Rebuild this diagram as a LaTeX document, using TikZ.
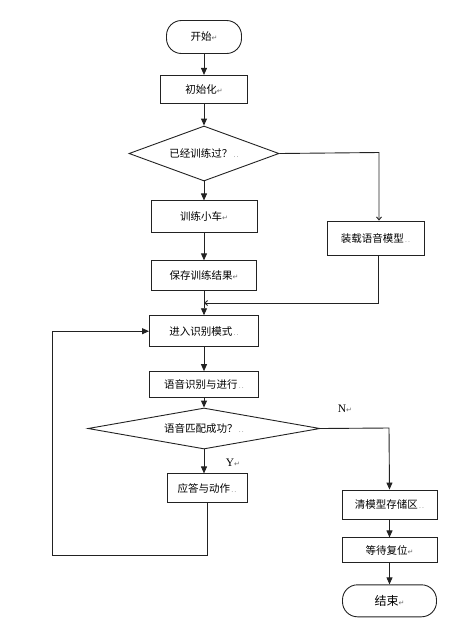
\documentclass[tikz,border=0pt]{standalone}
\usepackage{fontspec}
\usepackage{tikz}
\usetikzlibrary{arrows.meta,positioning,shapes.geometric}
\newfontfamily\cjk{Noto Sans CJK SC}
\newfontfamily\symf{DejaVu Sans}
\newfontfamily\latn{Liberation Serif}
\definecolor{ink}{HTML}{222222}
\definecolor{pmark}{HTML}{6A6A6A}
\newcommand{\pmk}{{\symf\fontsize{7}{8}\selectfont\color{pmark}↵}}
\newcommand{\dmk}{{\fontsize{7}{8}\selectfont\color{pmark}\,.\,.}}

\begin{document}
\begin{tikzpicture}[node distance=22pt,
  box/.style={draw=ink,line width=0.9pt,inner sep=0pt,align=center,font=\cjk\fontsize{10.5}{12}\selectfont},
  term/.style={box,rounded corners=15pt,minimum height=33pt},
  cond/.style={box,diamond},
  lbl/.style={font=\latn\fontsize{11.5}{12}\selectfont,inner sep=0pt},
  arr/.style={-{Triangle[length=7pt,width=6pt]},line width=0.9pt,color=ink},
  thin/.style={-{Straight Barb[length=3pt,width=5pt]},line width=0.9pt,color=ink}]
\useasboundingbox (0,0) rectangle (471pt,-625pt);
% main column
\node[term,minimum width=75pt] (start) at (204pt,-37pt) {开始\pmk};
\node[box,minimum width=87pt,minimum height=28pt,below=21pt of start] (init) {初始化\pmk};
\node[cond,aspect=2.73,minimum width=150pt,minimum height=55pt] (trained) at (204pt,-153.5pt) {已经训练过？\dmk};
\node[box,minimum width=106pt,minimum height=32pt,below=19pt of trained] (train) {训练小车\pmk};
\node[box,minimum width=105pt,minimum height=30pt,below=27pt of train] (save) {保存训练结果\pmk};
\node[box,minimum width=109pt,minimum height=31pt,below=24pt of save] (enter) {进入识别模式\dmk};
\node[box,minimum width=109pt,minimum height=26pt,below=24pt of enter] (recog) {语音识别与进行\dmk};
\node[cond,aspect=5.66,minimum width=232pt,minimum height=41pt] (match) at (204pt,-428.5pt) {语音匹配成功？\dmk};
\node[box,minimum width=80pt,minimum height=29pt,below=24pt of match,xshift=3pt] (answer) {应答与动作\dmk};
% right column
\node[box,minimum width=97pt,minimum height=34pt] (load) at (375.5pt,-238pt) {装载语音模型\dmk};
\node[box,minimum width=95pt,minimum height=29pt] (clear) at (389.5pt,-504.5pt) {清模型存储区\dmk};
\node[box,minimum width=95pt,minimum height=25pt,below=18pt of clear] (wait) {等待复位\pmk};
\node[term,minimum width=94pt,minimum height=32pt,below=21pt of wait,font=\cjk\fontsize{12}{14}\selectfont] (stop) {结束\pmk};
\node[lbl] (no) at (345pt,-409pt) {N\pmk};
\node[lbl] (yes) at (233pt,-463pt) {Y\pmk};
\coordinate (tl) at (379pt,-152.5pt);
\coordinate (bl) at (378pt,-303pt);
\coordinate (lp) at (52pt,-555pt);
\coordinate (nb) at (389pt,-428pt);
% connectors
\draw[arr] (start) -- (init);
\draw[arr] (init) -- (trained);
\draw[arr] (trained) -- (train);
\draw[arr] (train) -- (save);
\draw[arr] (save) -- (enter);
\draw[arr] (enter) -- (recog);
\draw[arr] (recog) -- (match);
\draw[arr] (match.south) -- (match.south |- answer.north);
\draw[thin] (trained.east) -- (tl) -- (tl |- load.north);
\draw[thin] (load.south -| bl) -- (bl) -- (save.south |- bl);
\draw[arr] (answer.south) |- (lp) |- (enter.west);
\draw[arr] (match.east) -- (nb) -- (clear.north);
\draw[arr] (clear) -- (wait);
\draw[arr] (wait) -- (stop);
\end{tikzpicture}
\end{document}
